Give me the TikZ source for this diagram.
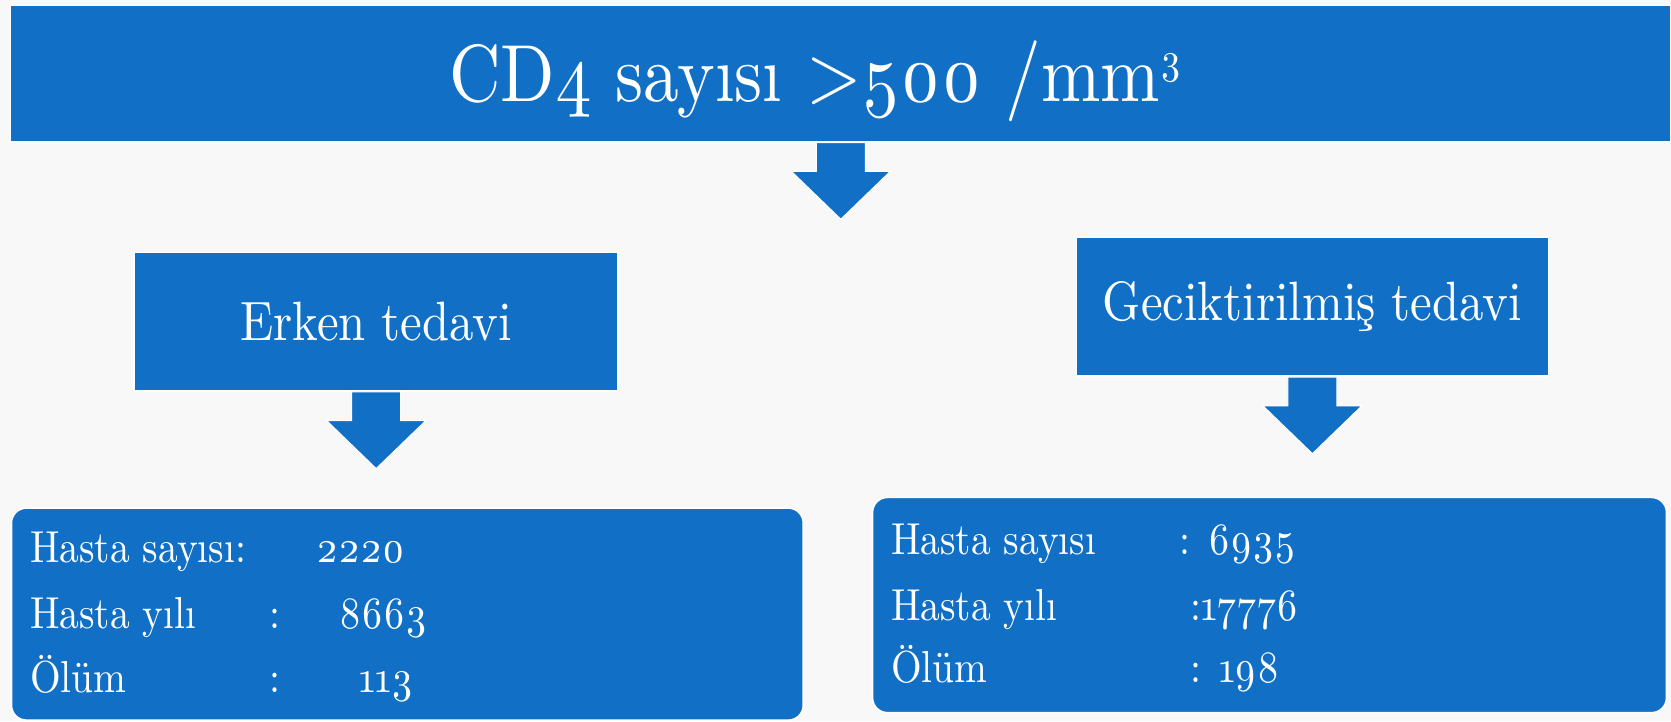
\documentclass[tikz,border=0pt]{standalone}
\usepackage{fontspec}
\setmainfont{lmroman10-regular}[Extension=.otf, FakeStretch=0.88, Numbers=OldStyle]
\usepackage{tikz}
\definecolor{boxblue}{RGB}{17,112,197}
\definecolor{paper}{RGB}{248,248,248}
\tikzset{
	every node/.style={inner sep=0pt, text=white}, % white text, no padding
	box/.style={fill=boxblue, draw=white, line width=1.5pt}, % every blue shape
	banner/.style={box, minimum width=1558pt, minimum height=128pt, font=\fontsize{76}{76}\selectfont, text height=52pt, text depth=0pt}, % the top title
	treat/.style={box, minimum height=130pt, font=\fontsize{52}{52}\selectfont}, % the two treatments
	result/.style={box, rounded corners=14pt, anchor=north west}, % the two number panels
	row/.style={anchor=base west, font=\fontsize{42}{42}\selectfont}, % one line in a panel
	downarrow/.pic={\fill[boxblue, draw=white, line width=1pt] (-23,0) -- (-23,27) -- (-46.5,27) -- (0,72) -- (46.5,27) -- (23,27) -- (23,0) -- cycle;}, % block arrow under a box
}

\begin{document}
\begin{tikzpicture}[x=1pt, y=-1pt]
	\useasboundingbox (0,0) rectangle (1568,677);
	\fill[paper] (0,0) rectangle (1568,677);
			\node[banner] (cd4) at (789,69) {CD4 sayısı >500 /mm\raisebox{26pt}{\fontsize{40}{40}\selectfont 3}\hspace*{48pt}};
			\node[treat, minimum width=454pt] (erken) at (353,302) {Erken tedavi};
			\node[treat, minimum width=443pt] (gecik) at (1231.5,288) {Geciktirilmiş tedavi};
			\node[result, minimum width=743pt, minimum height=199pt] (erkenres) at (10,476) {};
			\node[result, minimum width=745pt, minimum height=202pt] (gecikres) at (818,466) {};
	\pic at (cd4.south) {downarrow};
	\pic at (erken.south) {downarrow};
	\pic at (gecik.south) {downarrow};
	% early treatment numbers
			\node[row] (esay) at (28,528) {Hasta sayısı:};
			\node[row] (esayv) at (297,528) {2220};
			\node[row] (eyil) at (28,590) {Hasta yılı};
			\node[row] (eyilc) at (253,590) {:};
			\node[row] (eyilv) at (318,590) {8663};
			\node[row] (eolum) at (28,650) {Ölüm};
			\node[row] (eolumc) at (253,650) {:};
			\node[row] (eolumv) at (337,650) {113};
	% delayed treatment numbers
			\node[row] (gsay) at (836,520) {Hasta sayısı};
			\node[row] (gsayv) at (1107,520) {: 6935};
			\node[row] (gyil) at (836,582) {Hasta yılı};
			\node[row] (gyilv) at (1117,582) {:17776};
			\node[row] (golum) at (836,640) {Ölüm};
			\node[row] (golumv) at (1117,640) {: 198};
\end{tikzpicture}
\end{document}
